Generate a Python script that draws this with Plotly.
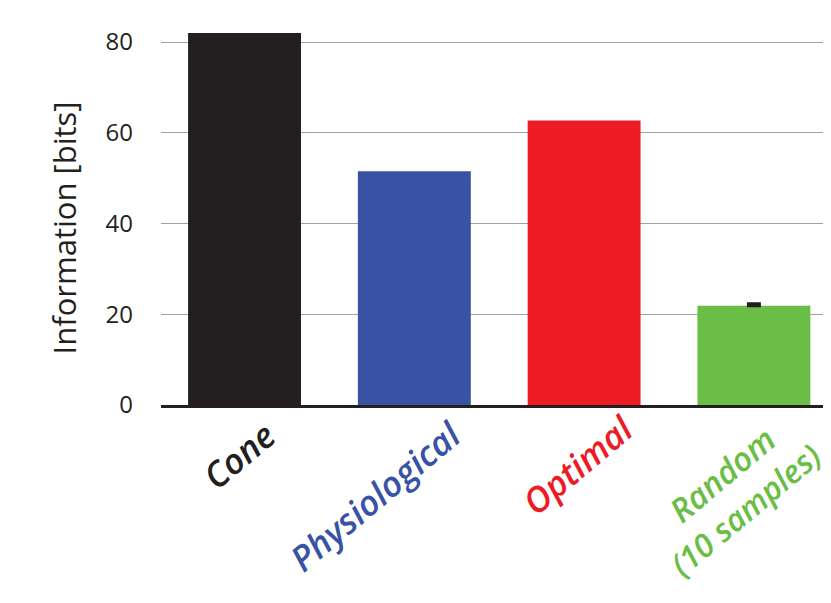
import plotly.graph_objects as go

categories = ["Cone", "Physiological", "Optimal", "Random"]
label_texts = ["Cone", "Physiological", "Optimal", "Random<br>(10 samples)"]
values = [82.0, 51.5, 62.7, 21.9]
random_err = [0.4]
colors = ["#231f20", "#3953a4", "#ed1c24", "#6abd45"]
y_ticks = [0, 20, 40, 60, 80]

FONT = "Open Sans"
INK = "#231f20"

fig = go.Figure()
fig.add_trace(go.Bar(
    x=categories,
    y=values,
    width=0.665,
    marker=dict(color=colors, line=dict(width=0)),
    showlegend=False,
    hoverinfo="x+y",
))
# error bar only on the Random bar
fig.add_trace(go.Scatter(
    x=[categories[3]], y=[values[3]],
    mode="markers", marker=dict(size=1, opacity=0),
    error_y=dict(type="data", symmetric=False, array=random_err,
                 arrayminus=[0], color=INK, thickness=3, width=7),
    showlegend=False, hoverinfo="skip",
))

# category labels (rotated, coloured); each line placed separately
line_pos = [
    [(-6, -0.128, 35)],
    [(-39, -0.227, 35)],
    [(-6.5, -0.149, 35)],
    [(-32, -0.174, 33), (-9, -0.262, 32)],
]
for cat, txt, col, positions in zip(categories, label_texts, colors, line_pos):
    for line, (dx, py, fs) in zip(txt.split("<br>"), positions):
        fig.add_annotation(
            x=cat, xref="x", y=py, yref="paper",
            text=line,
            textangle=-40, showarrow=False,
            xanchor="center", yanchor="middle", xshift=dx,
            font=dict(family=FONT, size=fs, color=col, weight=600, style="italic"),
            align="center",
        )

# y-axis title
fig.add_annotation(
    x=-0.145 * 670 / 662, xref="paper", y=0.447, yref="paper",
    text="Information [bits]", textangle=-90, showarrow=False,
    xanchor="center", yanchor="middle",
    font=dict(family=FONT, size=31, color=INK),
)

fig.update_layout(
    width=815, height=587,
    margin=dict(l=153, r=0, t=0, b=190),
    paper_bgcolor="white", plot_bgcolor="white",
    font=dict(family=FONT, color=INK),
    xaxis=dict(
        range=[-0.492, 3.407],
        showticklabels=False, ticks="",
        showgrid=False, zeroline=False,
        showline=True, linecolor=INK, linewidth=2.5,
    ),
    yaxis=dict(
        range=[0, 87.5],
        tickvals=y_ticks,
        ticktext=[str(v) for v in y_ticks],
        tickfont=dict(family=FONT, size=24, color=INK),
        ticklabelstandoff=27,
        showgrid=True, gridcolor="#a0a0a0", gridwidth=1.2,
        zeroline=False, showline=False, ticks="",
    ),
)

fig.write_html("out.html")
